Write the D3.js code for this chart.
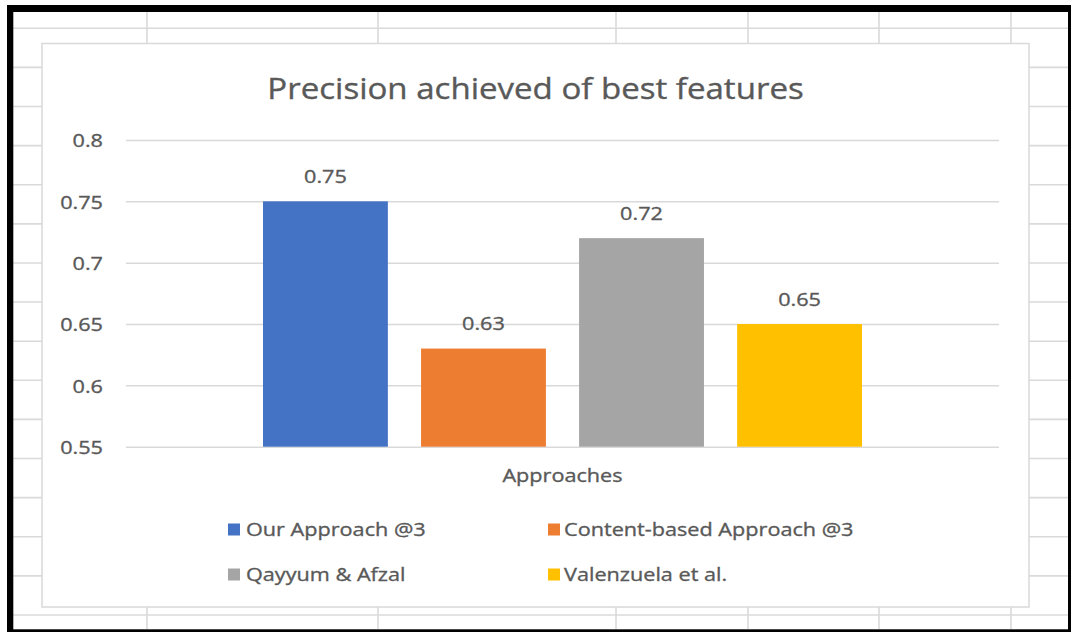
<!DOCTYPE html>
<html>
<head>
<meta charset="utf-8">
<script src="https://cdn.jsdelivr.net/npm/d3@7"></script>
<style>
  html, body { margin: 0; padding: 0; background: #ffffff; overflow: hidden; }
  svg { display: block; }
</style>
</head>
<body>
<svg id="chart" width="1071" height="632"></svg>
<script>
// ---- data ----
const categories = ["Approaches"];
const seriesNames = ["Our Approach @3", "Content-based Approach @3", "Qayyum & Afzal", "Valenzuela et al."];
const seriesValues = [0.75, 0.63, 0.72, 0.65];
const seriesColors = ["#4472c4", "#ed7d31", "#a5a5a5", "#ffc000"];
const yTickValues = [0.55, 0.6, 0.65, 0.7, 0.75, 0.8];
const yTickLabels = ["0.55", "0.6", "0.65", "0.7", "0.75", "0.8"];
const chartTitle = "Precision achieved of best features";
const xAxisTitle = "Approaches";

// ---- layout ----
const FONT = "'Open Sans', 'Noto Sans', sans-serif";
const TEXT_COLOR = "#595959";
const SX = 1.14; // horizontal text stretch
const plot = { left: 126, right: 999, top: 140, bottom: 446.7 };

const svg = d3.select("#chart");

// worksheet cells behind the chart
const sheet = svg.append("g").attr("class", "sheet");
const rowLines = d3.range(16).map(k => 28.3 + k * 39.11);
const colLines = [147, 378, 616, 748, 879, 1011];
sheet.selectAll("line.row").data(rowLines).join("line")
  .attr("x1", 13).attr("x2", 1068).attr("y1", d => d).attr("y2", d => d)
  .attr("stroke", "#dadada").attr("stroke-width", 1.6);
sheet.selectAll("line.col").data(colLines).join("line")
  .attr("x1", d => d).attr("x2", d => d).attr("y1", 12).attr("y2", 629)
  .attr("stroke", "#dadada").attr("stroke-width", 1.6);

// black frame
const frame = svg.append("g").attr("fill", "#000");
frame.append("rect").attr("x", 7).attr("y", 5).attr("width", 1064).attr("height", 7);
frame.append("rect").attr("x", 7).attr("y", 5).attr("width", 6.3).attr("height", 627);
frame.append("rect").attr("x", 1068).attr("y", 5).attr("width", 3).attr("height", 627);
frame.append("rect").attr("x", 7).attr("y", 629.3).attr("width", 1064).attr("height", 2.7);

// chart area
svg.append("rect")
  .attr("x", 42).attr("y", 43.5).attr("width", 987).attr("height", 563.5)
  .attr("fill", "#ffffff").attr("stroke", "#d9d9d9").attr("stroke-width", 1.5);

// stretched text helper
function label(parent, x, y, txt, size, anchor) {
  return parent.append("text")
    .attr("transform", `translate(${x},${y}) scale(${SX},1)`)
    .attr("text-anchor", anchor || "start")
    .attr("font-family", FONT).attr("font-size", size)
    .attr("fill", TEXT_COLOR)
    .attr("stroke", TEXT_COLOR).attr("stroke-width", 0.35)
    .text(txt);
}

// title
label(svg, 535.5, 99, chartTitle, 29, "middle");

// scales
const y = d3.scaleLinear().domain([0.55, 0.8]).range([plot.bottom, plot.top]);
const x0 = d3.scaleBand().domain(categories).range([plot.left, plot.right])
  .paddingInner(0).paddingOuter(0.2287);
const x1 = d3.scaleBand().domain(seriesNames).range([0, x0.bandwidth()])
  .paddingInner(0.21).paddingOuter(0);

// y axis with gridlines
const yAxis = d3.axisLeft(y)
  .tickValues(yTickValues)
  .tickFormat((d, i) => yTickLabels[i])
  .tickSize(-(plot.right - plot.left))
  .tickPadding(23);
const yg = svg.append("g").attr("transform", `translate(${plot.left},0)`).call(yAxis);
yg.select(".domain").remove();
yg.selectAll(".tick line").attr("stroke", "#d9d9d9").attr("stroke-width", 1.5);
yg.selectAll(".tick text")
  .attr("x", -23 / SX)
  .attr("dy", "0.36em")
  .attr("transform", `scale(${SX},1)`)
  .attr("font-family", FONT).attr("font-size", 19)
  .attr("fill", TEXT_COLOR)
  .attr("stroke", TEXT_COLOR).attr("stroke-width", 0.35);

// bars
const bars = svg.append("g");
categories.forEach(cat => {
  const g = bars.append("g").attr("transform", `translate(${x0(cat)},0)`);
  g.selectAll("rect").data(seriesNames).join("rect")
    .attr("x", d => x1(d))
    .attr("y", (d, i) => y(seriesValues[i]))
    .attr("width", x1.bandwidth())
    .attr("height", (d, i) => y(0.55) - y(seriesValues[i]))
    .attr("fill", (d, i) => seriesColors[i]);
  seriesNames.forEach((s, i) => {
    label(g, x1(s) + x1.bandwidth() / 2, y(seriesValues[i]) - 18.5,
      seriesValues[i].toFixed(2), 19, "middle");
  });
});

// x axis title
label(svg, (plot.left + plot.right) / 2, 482, xAxisTitle, 19, "middle");

// legend
const legendPos = [
  { sx: 228, tx: 246, row: 0 },
  { sx: 548, tx: 564, row: 0 },
  { sx: 228, tx: 246, row: 1 },
  { sx: 548, tx: 564, row: 1 }
];
const legend = svg.append("g");
seriesNames.forEach((s, i) => {
  const p = legendPos[i];
  const cy = 529.5 + p.row * 45;
  legend.append("rect")
    .attr("x", p.sx).attr("y", cy - 6).attr("width", 12).attr("height", 12)
    .attr("fill", seriesColors[i]);
  label(legend, p.tx, cy + 6.8, s, 19, "start");
});
</script>
</body>
</html>
